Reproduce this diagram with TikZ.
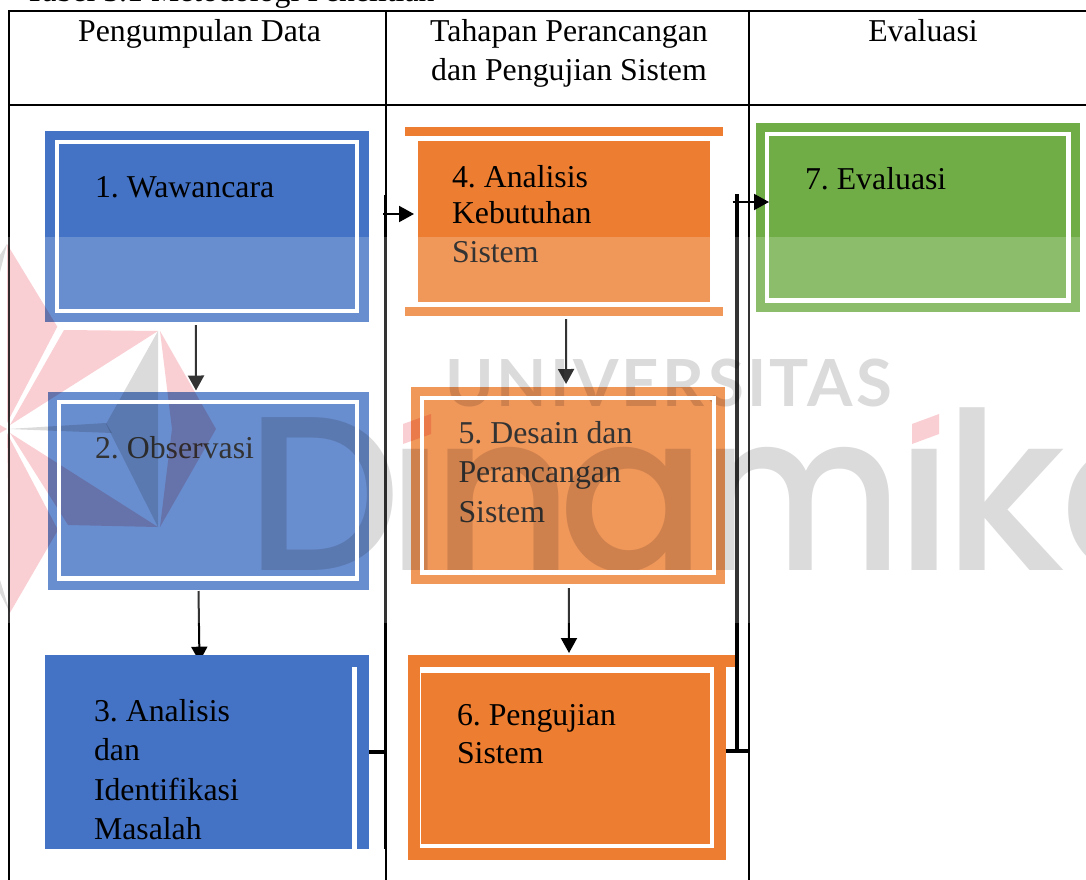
\documentclass[tikz,border=0pt]{standalone}
\usepackage{fontspec}
\usepackage{graphicx}
\setmainfont{Liberation Serif}
\newfontfamily\wmfont{Lato}
\newfontfamily\wmbig{Poppins Medium}
\usetikzlibrary{fit,arrows.meta}
\definecolor{cblue}{HTML}{4472C4}
\definecolor{corange}{HTML}{ED7D31}
\definecolor{cgreen}{HTML}{70AD47}
\definecolor{wgray}{HTML}{DBDBDB}
\definecolor{wred}{HTML}{F9CFD3}
\tikzset{
  boxfit/.style={inner sep=0pt,outer sep=0pt,fill=#1},
  whiteframe/.style={draw=white,line width=4.4pt},
  tableline/.style={line width=1.8pt,black},
  trunk/.style={line width=3pt,black},
  trunkb/.style={line width=4pt,black},
  jointline/.style={line width=3.4pt,black},
  conn/.style={line width=2pt,black,-{Triangle[length=15pt,width=16pt]}},
  label/.style={anchor=base west,inner sep=0pt,outer sep=0pt,align=left,black,font=\frenchspacing\fontsize{31.8}{39.5}\selectfont},
  head/.style={anchor=base,inner sep=0pt,outer sep=0pt,align=center,black,font=\frenchspacing\fontsize{31.8}{39}\selectfont},
  wm/.style={anchor=base west,inner sep=0pt,outer sep=0pt,text=wgray,font=\wmbig\fontsize{220}{220}\selectfont}
}
\begin{document}
\begin{tikzpicture}[x=1pt,y=-1pt]
\useasboundingbox (0,0) rectangle (1086,880);
\clip (0,0) rectangle (1086,880);
\fill[white] (0,0) rectangle (1086,880);
% boxes
\node[boxfit=cblue,fit={(45.4,131)(368.5,322)}] (n1) {};
\node[boxfit=cblue,fit={(47.5,391.7)(368.5,590)}] (n2) {};
\node[boxfit=cblue,fit={(45,655)(369,848.7)}] (n3) {};
\node[boxfit=corange,fit={(418,140.5)(709.6,302.3)}] (n4) {};
\node[boxfit=corange,fit={(404.6,127.3)(723,136)}] (n4top) {};
\node[boxfit=corange,fit={(404.6,307)(723,315.7)}] (n4bot) {};
\node[boxfit=corange,fit={(410.5,387.3)(725,583.7)}] (n5) {};
\node[boxfit=corange,fit={(408,655)(726,860)}] (n6) {};
\node[boxfit=corange,fit={(726,655)(735,667)}] (n6ext) {};
\node[boxfit=cgreen,fit={(755.7,123.3)(1080,311.7)}] (n7) {};
\draw[whiteframe] (767,134.2) rectangle (1068.5,300.5);
\fill[white] (420,667) rectangle (714,848);
\fill[corange] (421,673) rectangle (710,844);
% table
\coordinate (tl) at (8.7,880);
\coordinate (ttl) at (8.7,11);
\coordinate (ttr) at (1086,11);
\coordinate (hl) at (8.7,105);
\coordinate (hr) at (1086,105);
\coordinate (c1t) at (386,11);
\coordinate (c1b) at (386,195);
\coordinate (c1c) at (386,849);
\coordinate (c1d) at (386,880);
\coordinate (c2t) at (749,11);
\coordinate (c2b) at (749,880);
\draw[tableline] (tl) -- (ttl) -- (ttr);
\draw[tableline] (hl) -- (hr);
\draw[tableline] (c1t) -- (c1b);
\draw[tableline] (c1c) -- (c1d);
\draw[tableline] (c2t) -- (c2b);
% connectors
\coordinate (t3a) at (385,195);
\coordinate (t3b) at (385,849);
\coordinate (j34) at (383,214);
\coordinate (t6a) at (737,194);
\coordinate (t6b) at (737,752);
\coordinate (j67) at (732.5,202);
\draw[conn] ([xshift=-11pt,yshift=-3pt]n1.south) -- ([xshift=-12pt,yshift=1.2pt]n2.north);
\draw[conn] ([xshift=-9.5pt,yshift=-1pt]n2.south) -- ([xshift=-7.5pt,yshift=-6.7pt]n3.north);
\draw[conn] ([xshift=2.2pt,yshift=-16.7pt]n4.south) -- ([xshift=-1.7pt,yshift=3.3pt]n5.north);
\draw[conn] ([xshift=1.2pt,yshift=-4.3pt]n5.south) -- ([xshift=2pt,yshift=2pt]n6.north);
\fill[cblue] (n3.south west) rectangle (n3.north east);
\fill[white] (352,667) rectangle (357,849);
\draw[trunk] (t3a) -- (t3b);
\draw[jointline] (n3.east) -- (n3.east -| t3a);
\draw[conn] (j34) -- ([xshift=-4pt]n4.west |- j34);
\draw[trunkb] (t6a) -- (t6b);
\draw[jointline] ([yshift=6.5pt]n6.east) -- ([yshift=6.5pt]n6.east -| c2t);
\draw[conn] (j67) -- ([xshift=13.3pt]n7.west |- j67);
% texts
\node[anchor=base west,inner sep=0pt,font=\frenchspacing\fontsize{31.8}{39}\selectfont] (title) at (25,2) {Tabel 3.1 Metodologi Penelitian};
\node[head] (h1) at (199.5,42) {Pengumpulan Data};
\node[head] (h2) at (569,81) {Tahapan Perancangan\\dan Pengujian Sistem};
\node[head] (h3) at (923,42) {Evaluasi};
\node[label] (l1) at (95,197) {1. Wawancara};
\node[label] (l2) at (95,458) {2. Observasi};
\node[label] (l3) at (94,839.5) {3. Analisis\\dan\\Identifikasi\\Masalah};
\node[label] (l4) at (452,262.5) {4. Analisis\\[-3.5pt]Kebutuhan\\[-0.5pt]Sistem};
\node[label] (l5) at (458.5,522) {5. Desain dan\\Perancangan\\Sistem};
\node[label] (l6) at (457,763) {6. Pengujian\\[-1.5pt]Sistem};
\node[label] (l7) at (805,189) {7. Evaluasi};
% pale band
\fill[white,opacity=0.2] (0,237) rectangle (1086,622.7);
% watermark, multiplied over everything
\begin{scope}[blend mode=multiply]
  \fill[wred] (7,244) -- (57.3,326.7) -- (7,423) -- cycle;
  \fill[wred] (64,330) -- (158,331) -- (10,425) -- cycle;
  \fill[wred] (160,331) -- (216,429) -- (160,527) -- (172,429) -- cycle;
  \fill[wred] (10,433) -- (68,525) -- (158,527) -- cycle;
  \fill[wred] (7,433) -- (58,530) -- (10,612.7) -- cycle;
  \fill[wred] (0,425) -- (7,429) -- (0,433) -- cycle;
  \fill[wgray] (7,244) -- (0,255) -- (0,272) -- cycle;
  \fill[wgray] (158,331) -- (106,424) -- (158,527) -- cycle;
  \fill[wgray] (8,429) -- (106,423) -- (112,433) -- cycle;
  \fill[wgray] (10,612.7) -- (0,593) -- (0,580) -- cycle;
  \node[anchor=south west,inner sep=0pt,outer sep=0pt,text=wgray] (wmuniv) at (445,407.5)
    {\resizebox{447pt}{47.5pt}{\wmfont\bfseries\addfontfeature{LetterSpace=5}UNIVERSITAS}};
  \node[wm] (wmD) at (245,570) {D};
  \begin{scope}
    \clip (395,448) rectangle (440,600);
    \node[wm] (wmi) at (386,570) {i};
  \end{scope}
  \fill[wred] (403,424) -- (431,414) -- (431,434) -- (403,444) -- cycle;
  \node[wm] (wmn) at (431,570) {n};
  \node[wm] (wma) at (558,570) {a};
  \node[wm] (wmm) at (697,570) {\scalebox{0.9}[1]{m}};
  \begin{scope}
    \clip (905,448) rectangle (950,600);
    \node[wm] (wmii) at (895,570) {i};
  \end{scope}
  \fill[wred] (912,424) -- (939,414) -- (939,434) -- (912,444) -- cycle;
  \node[wm] (wmk) at (943,570) {k};
  \node[wm] (wmaa) at (1060,570) {a};
\end{scope}
% white frames stay clean
\draw[whiteframe] (56.7,142) rectangle (357.2,311);
\draw[whiteframe] (58.7,402) rectangle (357.2,578.5);
\draw[whiteframe] (421.7,398.2) rectangle (714,572.5);
\fill[white] (352,667) rectangle (357,849);
\end{tikzpicture}
\end{document}
